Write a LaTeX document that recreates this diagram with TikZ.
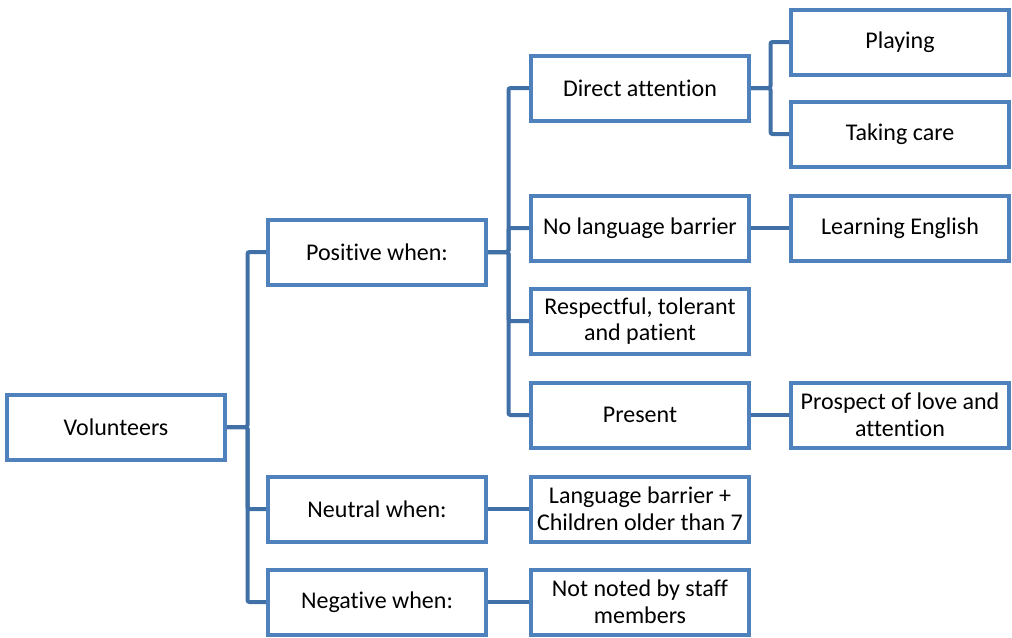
\documentclass[tikz,border=0pt]{standalone}
\usepackage{fontspec}
\setmainfont{Carlito}[Ligatures=NoCommon]
\definecolor{boxblue}{RGB}{79,129,189}
\definecolor{linkblue}{RGB}{64,112,166}
\begin{document}
\begin{tikzpicture}[x=0.75pt,y=-0.75pt,
  box/.style={draw=boxblue, line width=3pt, fill=white,
    minimum width=163.5pt, minimum height=48.75pt, inner sep=0pt,
    align=center, font=\fontsize{18}{20}\selectfont},
  link/.style={draw=linkblue, line width=3pt, rounded corners=1.5pt}]
\useasboundingbox (0,0) rectangle (1012,637);

% level 0
\node[box] (vol) at (116,427) {Volunteers};
% level 1
\node[box] (pos) at (377,252) {Positive when:};
\node[box] (neu) at (377,509) {Neutral when:};
\node[box] (neg) at (377,602) {Negative when:};
% level 2
\node[box] (dir) at (640,88)  {Direct attention};
\node[box] (nlb) at (640,228) {No language barrier};
\node[box] (res) at (640,321) {Respectful, tolerant\\and patient};
\node[box] (pre) at (640,415) {Present};
\node[box] (lb)  at (640,509) {Language barrier +\\Children older than 7};
\node[box] (nn)  at (640,602) {Not noted by staff\\members};
% level 3
\node[box] (pla) at (900,42)  {Playing};
\node[box] (tak) at (900,134) {Taking care};
\node[box] (eng) at (900,228) {Learning English};
\node[box] (pro) at (900,415) {Prospect of love and\\attention};

% elbow connectors
\foreach \c in {pos,neu,neg}
  \draw[link] (vol.east) -- ++(20.5,0) |- (\c.west);
\foreach \c in {dir,nlb,res,pre}
  \draw[link] (pos.east) -- ++(20.5,0) |- (\c.west);
\foreach \c in {pla,tak}
  \draw[link] (dir.east) -- ++(19.5,0) |- (\c.west);
\draw[link] (nlb.east) -- (eng.west);
\draw[link] (pre.east) -- (pro.west);
\draw[link] (neu.east) -- (lb.west);
\draw[link] (neg.east) -- (nn.west);
\end{tikzpicture}
\end{document}
